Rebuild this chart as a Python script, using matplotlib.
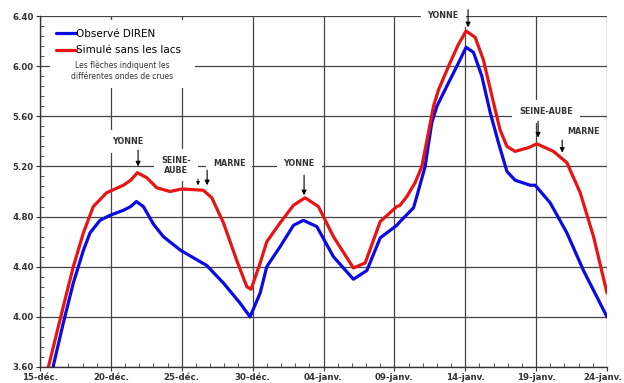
import numpy as np
import matplotlib
matplotlib.use("Agg")
import matplotlib.pyplot as plt
import matplotlib.transforms as mtransforms
from matplotlib.patches import Rectangle
from matplotlib.ticker import MultipleLocator

# days after 15-déc.
obs_day = [0.9, 1.64, 2.35, 3.06, 3.53, 4.23, 4.94, 5.88, 6.4, 6.8, 7.29, 7.7,
           8.0, 8.7, 9.93, 11.76, 12.94, 14.11, 14.82, 15.53, 16.0, 16.23, 16.94,
           17.88, 18.58, 19.53, 20.7, 22.11, 23.06, 24.0, 25.17, 25.4, 26.35,
           26.58, 27.17, 27.64, 28.0, 28.7, 29.41, 30.06, 30.58, 31.17, 31.76,
           32.34, 32.94, 33.52, 34.58, 34.93, 35.99, 37.17, 38.34, 40.0]
obs_val = [3.59, 3.95, 4.27, 4.53, 4.67, 4.77, 4.81, 4.85, 4.88, 4.92, 4.88, 4.80,
           4.74, 4.64, 4.53, 4.41, 4.27, 4.11, 4.00, 4.19, 4.40, 4.44, 4.56,
           4.73, 4.77, 4.72, 4.48, 4.30, 4.37, 4.63, 4.73, 4.76, 4.87,
           4.96, 5.20, 5.55, 5.68, 5.84, 6.00, 6.15, 6.11, 5.92, 5.63,
           5.39, 5.16, 5.09, 5.05, 5.05, 4.91, 4.67, 4.37, 4.00]

sim_day = [0.59, 1.64, 2.35, 3.06, 3.76, 4.7, 5.88, 6.4, 6.87, 7.53, 8.24, 9.17,
           10.0, 11.52, 12.12, 12.94, 13.88, 14.59, 14.89, 15.53, 16.0, 16.94,
           17.88, 18.7, 19.64, 20.7, 22.11, 22.94, 24.0, 25.17, 25.4, 25.88,
           26.46, 26.94, 27.76, 28.11, 28.94, 29.5, 30.06, 30.7, 31.28, 31.99,
           32.46, 32.94, 33.52, 34.46, 35.05, 36.22, 37.17, 38.11, 39.05, 40.0]
sim_val = [3.60, 4.08, 4.40, 4.67, 4.88, 4.99, 5.05, 5.09, 5.15, 5.11, 5.03, 5.00,
           5.02, 5.01, 4.95, 4.75, 4.45, 4.24, 4.22, 4.43, 4.60, 4.75,
           4.89, 4.95, 4.88, 4.64, 4.39, 4.43, 4.76, 4.88, 4.89, 4.96,
           5.07, 5.20, 5.68, 5.81, 6.03, 6.17, 6.28, 6.23, 6.05, 5.71,
           5.49, 5.36, 5.32, 5.35, 5.38, 5.32, 5.23, 4.99, 4.64, 4.19]

tick_days = [0, 5, 10, 15, 20, 25, 30, 35, 40]
tick_labels = ["15-déc.", "20-déc.", "25-déc.", "30-déc.", "04-janv.",
               "09-janv.", "14-janv.", "19-janv.", "24-janv."]

# (label, text x, text y, arrow x, arrow top, arrow bottom)
waves = [
    ("YONNE", 6.21, 5.40, 6.92, 5.33, 5.20),
    ("SEINE-\nAUBE", 9.6, 5.21, 11.79, 5.17, 5.05),
    ("MARNE", 13.34, 5.22, None, None, None),
    ("YONNE", 18.28, 5.22, 18.63, 5.13, 4.97),
    ("YONNE", 28.44, 6.40, 30.2, 6.45, 6.31),
    ("SEINE-AUBE", 35.71, 5.64, 35.14, 5.56, 5.43),
    ("MARNE", 38.32, 5.48, 36.84, 5.41, 5.31),
]

fig = plt.figure(figsize=(6.24, 3.83), dpi=100)
ax = fig.add_axes([40 / 624, 16 / 383, 567 / 624, 351 / 383])

ax.plot(obs_day, obs_val, color="#0a0ae6", lw=2.3, solid_joinstyle="round",
        solid_capstyle="round", label="Observé DIREN", zorder=3)
ax.plot(sim_day, sim_val, color="#e81414", lw=2.3, solid_joinstyle="round",
        solid_capstyle="round", label="Simulé sans les lacs", zorder=3)

ax.set_xlim(0, 40)
ax.set_ylim(3.6, 6.4)
ax.set_xticks(tick_days)
ax.set_xticklabels(tick_labels)
yt = np.arange(3.6, 6.41, 0.4)
ax.set_yticks(yt)
ax.set_yticklabels([f"{v:.2f}" for v in yt])
ax.xaxis.set_minor_locator(MultipleLocator(1))
ax.yaxis.set_minor_locator(MultipleLocator(0.08))
ax.tick_params(which="major", direction="out", length=3, width=0.8,
               color="#333333", labelsize=6.2, labelcolor="#333333", pad=1.5)
ax.tick_params(which="minor", direction="in", length=3, width=0.7, color="#555555")
for lab in ax.get_xticklabels() + ax.get_yticklabels():
    lab.set_fontweight("bold")
# keep the last date label inside the picture
last = ax.get_xticklabels()[-1]
last.set_transform(last.get_transform() +
                   mtransforms.ScaledTranslation(-4 / 100, 0, fig.dpi_scale_trans))

ax.set_axisbelow(True)
ax.grid(True, which="major", color="#444444", lw=0.9)
for s in ["top", "right"]:
    ax.spines[s].set_visible(False)
for s in ["left", "bottom"]:
    ax.spines[s].set_color("#333333")
    ax.spines[s].set_linewidth(1.0)

# white box behind the legend and note
ax.add_patch(Rectangle((0.018, 0.795), 0.255, 0.194, transform=ax.transAxes,
                       facecolor="white", edgecolor="none", zorder=1))
ax.legend(loc="upper left", bbox_to_anchor=(0.02, 0.975), frameon=False,
          handlelength=2.0, handletextpad=0.0, fontsize=7.5, labelspacing=0.6,
          borderaxespad=0)
ax.text(0.145, 0.845, "Les flèches indiquent les\ndifférentes ondes de crues",
        transform=ax.transAxes, ha="center", va="center", fontsize=5.5,
        color="#333333", linespacing=1.3, zorder=4)

for label, tx, ty, axx, atop, abot in waves:
    ax.text(tx, ty, label, ha="center", va="center", fontsize=5.8,
            fontweight="bold", color="#333333", linespacing=1.1, zorder=4,
            clip_on=False,
            bbox=dict(facecolor="white", edgecolor="none", pad=5))
    if axx is not None:
        ax.annotate("", xy=(axx, abot), xytext=(axx, atop), zorder=5,
                    annotation_clip=False,
                    arrowprops=dict(arrowstyle="-|>", color="black", lw=0.8,
                                    mutation_scale=7, shrinkA=0, shrinkB=0))
# small extra arrow near the first SEINE-AUBE label
ax.annotate("", xy=(11.15, 5.05), xytext=(11.15, 5.10), zorder=5,
            arrowprops=dict(arrowstyle="-|>", color="black", lw=0.6,
                            mutation_scale=5, shrinkA=0, shrinkB=0))

fig.savefig("out.png", dpi=100)
